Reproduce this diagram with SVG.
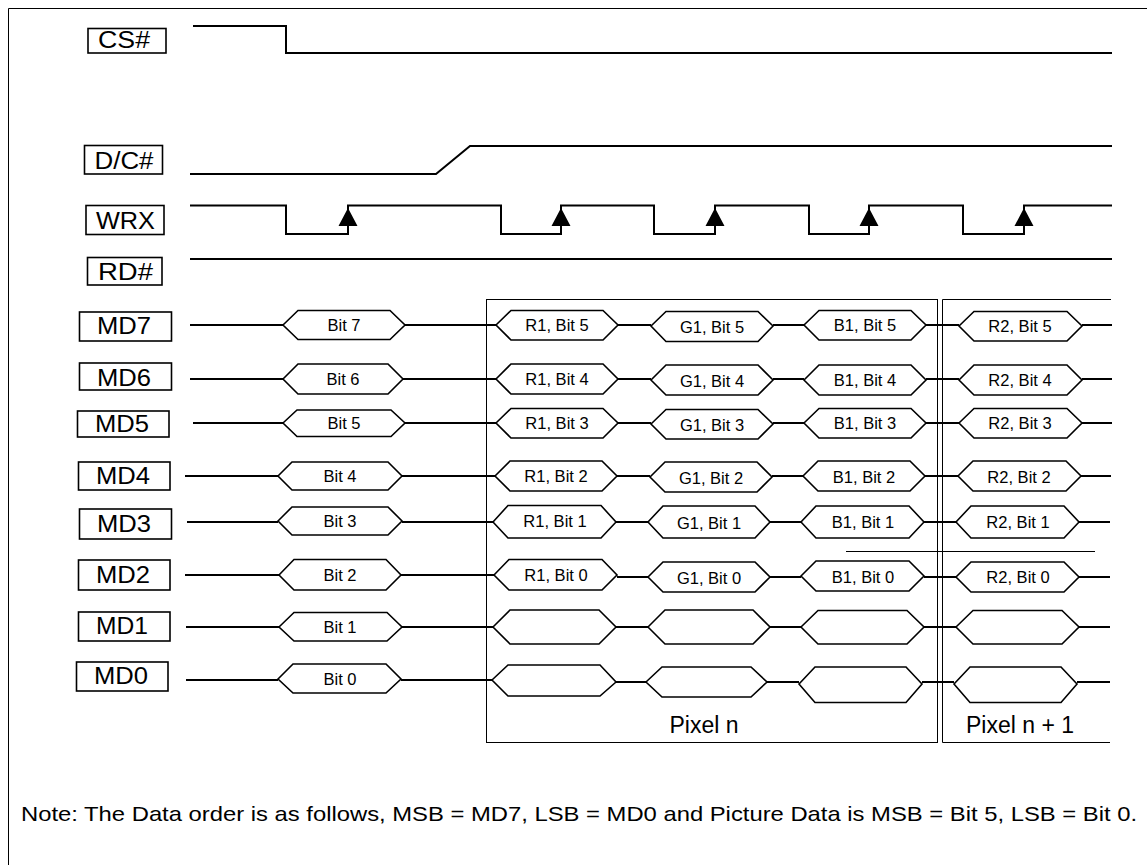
<svg xmlns="http://www.w3.org/2000/svg" width="1147" height="865" viewBox="0 0 1147 865">
<style>
.bg{fill:#fff}
.frame{fill:none;stroke:#000;stroke-width:1}
.lbl{fill:#fff;stroke:#000;stroke-width:1.6}
.lt{font-family:"Liberation Sans",Arial,sans-serif;font-size:23px;fill:#000;text-anchor:middle}
.sig{fill:none;stroke:#000;stroke-width:2}
.hex{fill:#fff;stroke:#000;stroke-width:1.6;stroke-linejoin:miter}
.ht{font-family:"Liberation Sans",Arial,sans-serif;font-size:16.5px;fill:#000;text-anchor:middle}
.box{fill:none;stroke:#000;stroke-width:1}
.pt{font-family:"Liberation Sans",Arial,sans-serif;font-size:23px;fill:#000;text-anchor:middle}
.note{font-family:"Liberation Sans",Arial,sans-serif;font-size:21px;fill:#000}
.arr{fill:#000}
</style>
<rect class="bg" x="0" y="0" width="1147" height="865"/>
<path class="frame" d="M8.5,865 V8.5 H1147"/>

<g id="pixel-boxes">
<rect class="box" x="486.5" y="299.5" width="451" height="443"/>
<path class="box" d="M1111,299.5 H942.5 V742.5 H1110"/>
<line class="box" x1="846" y1="551.5" x2="1095" y2="551.5"/>
<text class="pt" x="704" y="733">Pixel n</text>
<text class="pt" x="1020" y="733">Pixel n + 1</text>
</g>

<g id="connectors">
<path class="sig" d="M193,26 H286 V53 H1112"/>
<path class="sig" d="M190,174 H436 L470,146 H1112"/>
<path class="sig" d="M190,205.5 H286 V234 H348 V205.5 H501 V234 H561 V205.5 H654 V234 H715 V205.5 H809 V234 H869 V205.5 H963 V234 H1024 V205.5 H1112"/>
<path class="arr" d="M348,208 L338.5,226 H357.5 Z M561,208 L551.5,226 H570.5 Z M715,208 L705.5,226 H724.5 Z M869,208 L859.5,226 H878.5 Z M1024,208 L1014.5,226 H1033.5 Z"/>
<path class="sig" d="M190,259 H1112"/>
<path class="sig" d="M190,325 H283 M405,325 H496 M618,325 H651 M773,325 H804 M926,325 H959 M1082,325 H1112"/>
<path class="sig" d="M190,379 H283 M403,379 H496 M618,379 H651 M773,379 H804 M926,379 H959 M1082,379 H1112"/>
<path class="sig" d="M193,423 H283 M405,423 H496 M618,423 H651 M773,423 H804 M926,423 H959 M1082,423 H1112"/>
<path class="sig" d="M185,476 H278 M402,476 H495 M617,476 H650 M772,476 H803 M925,476 H958 M1081,476 H1111"/>
<path class="sig" d="M187,522 H278 M402,522 H493 M616,522 H648 M770,522 H801 M924,522 H956 M1079,522 H1110"/>
<path class="sig" d="M185,575 H279 M401,575 H494 M617,577 H649 M770,577 H801 M924,577 H956 M1079,577 H1110"/>
<path class="sig" d="M186,627 H279 M402,627 H493 M616,627 H648 M770,627 H801 M924,627 H956 M1079,627 H1110"/>
<path class="sig" d="M186,680 H278 M401,680 H492 M616,682 H646 M767,682 H799 M922,682 H954 M1077,682 H1110"/>
</g>

<g id="CS"><rect class="lbl" x="88" y="28.5" width="78" height="24.5"/><text class="lt" x="124" y="47.5" textLength="52" lengthAdjust="spacingAndGlyphs">CS#</text></g>
<g id="DC"><rect class="lbl" x="84.5" y="145.5" width="78" height="28.5"/><text class="lt" x="124" y="169" textLength="59" lengthAdjust="spacingAndGlyphs">D/C#</text></g>
<g id="WRX"><rect class="lbl" x="86" y="205.5" width="78" height="29"/><text class="lt" x="125.5" y="228.5" textLength="59" lengthAdjust="spacingAndGlyphs">WRX</text></g>
<g id="RD"><rect class="lbl" x="87.5" y="257.5" width="74.5" height="27.5"/><text class="lt" x="125.5" y="280" textLength="55" lengthAdjust="spacingAndGlyphs">RD#</text></g>

<g id="MD7"><rect class="lbl" x="79.5" y="312" width="92" height="29"/><text class="lt" x="124" y="334" textLength="54" lengthAdjust="spacingAndGlyphs">MD7</text></g>
<g id="MD6"><rect class="lbl" x="79.5" y="363" width="92" height="27"/><text class="lt" x="124" y="386" textLength="54" lengthAdjust="spacingAndGlyphs">MD6</text></g>
<g id="MD5"><rect class="lbl" x="77.5" y="411" width="91.5" height="26"/><text class="lt" x="122" y="432" textLength="54" lengthAdjust="spacingAndGlyphs">MD5</text></g>
<g id="MD4"><rect class="lbl" x="78.5" y="462" width="91.5" height="28"/><text class="lt" x="123" y="484" textLength="54" lengthAdjust="spacingAndGlyphs">MD4</text></g>
<g id="MD3"><rect class="lbl" x="79.5" y="509" width="92" height="30"/><text class="lt" x="124" y="532" textLength="54" lengthAdjust="spacingAndGlyphs">MD3</text></g>
<g id="MD2"><rect class="lbl" x="78.5" y="560" width="91.5" height="30"/><text class="lt" x="123" y="583" textLength="54" lengthAdjust="spacingAndGlyphs">MD2</text></g>
<g id="MD1"><rect class="lbl" x="78.5" y="612" width="91.5" height="29"/><text class="lt" x="122" y="634" textLength="52" lengthAdjust="spacingAndGlyphs">MD1</text></g>
<g id="MD0"><rect class="lbl" x="76.5" y="662" width="91.5" height="29"/><text class="lt" x="121" y="684" textLength="54" lengthAdjust="spacingAndGlyphs">MD0</text></g>

<g id="bits">
<g id="bit7"><path class="hex" d="M283,325 L298,310.5 H390 L405,325 L390,339.5 H298 Z"/><text class="ht" x="344" y="331">Bit 7</text></g>
<g id="bit6"><path class="hex" d="M283,379 L298,364 H388 L403,379 L388,394 H298 Z"/><text class="ht" x="343" y="385">Bit 6</text></g>
<g id="bit5"><path class="hex" d="M283,423 L297,410 H391 L405,423 L391,436.5 H297 Z"/><text class="ht" x="344" y="429">Bit 5</text></g>
<g id="bit4"><path class="hex" d="M278,476 L292,462 H388 L402,476 L388,490 H292 Z"/><text class="ht" x="340" y="482">Bit 4</text></g>
<g id="bit3"><path class="hex" d="M278,521 L292,507 H388 L402,521 L388,535 H292 Z"/><text class="ht" x="340" y="527">Bit 3</text></g>
<g id="bit2"><path class="hex" d="M279,575 L294,559.5 H386 L401,575 L386,590 H294 Z"/><text class="ht" x="340" y="581">Bit 2</text></g>
<g id="bit1"><path class="hex" d="M279,627 L294,612.5 H387 L402,627 L387,641 H294 Z"/><text class="ht" x="340" y="633">Bit 1</text></g>
<g id="bit0"><path class="hex" d="M278,679 L293,664 H386 L401,679 L386,693 H293 Z"/><text class="ht" x="340" y="685">Bit 0</text></g>
</g>

<g id="pixel-row-MD7">
<g id="r1b5"><path class="hex" d="M496,325 L511,310.5 H603 L618,325 L603,340 H511 Z"/><text class="ht" x="557" y="331">R1, Bit 5</text></g>
<g id="g1b5"><path class="hex" d="M651,326 L666,311.5 H758 L773,326 L758,341.5 H666 Z"/><text class="ht" x="712" y="333">G1, Bit 5</text></g>
<g id="b1b5"><path class="hex" d="M804,325 L819,310.5 H911 L926,325 L911,340 H819 Z"/><text class="ht" x="865" y="331">B1, Bit 5</text></g>
<g id="r2b5"><path class="hex" d="M959,326 L974,311.5 H1067 L1082,326 L1067,341 H974 Z"/><text class="ht" x="1020" y="332">R2, Bit 5</text></g>
</g>
<g id="pixel-row-MD6">
<g id="r1b4"><path class="hex" d="M496,379 L511,364 H603 L618,379 L603,394 H511 Z"/><text class="ht" x="557" y="385">R1, Bit 4</text></g>
<g id="g1b4"><path class="hex" d="M651,380 L666,365 H758 L773,380 L758,395 H666 Z"/><text class="ht" x="712" y="387">G1, Bit 4</text></g>
<g id="b1b4"><path class="hex" d="M804,380 L819,365 H911 L926,380 L911,395 H819 Z"/><text class="ht" x="865" y="386">B1, Bit 4</text></g>
<g id="r2b4"><path class="hex" d="M959,380 L974,365 H1067 L1082,380 L1067,395 H974 Z"/><text class="ht" x="1020" y="386">R2, Bit 4</text></g>
</g>
<g id="pixel-row-MD5">
<g id="r1b3"><path class="hex" d="M496,423 L511,408.5 H603 L618,423 L603,438 H511 Z"/><text class="ht" x="557" y="429">R1, Bit 3</text></g>
<g id="g1b3"><path class="hex" d="M651,424 L666,409.5 H758 L773,424 L758,439 H666 Z"/><text class="ht" x="712" y="431">G1, Bit 3</text></g>
<g id="b1b3"><path class="hex" d="M804,423 L819,408.5 H911 L926,423 L911,438 H819 Z"/><text class="ht" x="865" y="429">B1, Bit 3</text></g>
<g id="r2b3"><path class="hex" d="M959,423 L974,408.5 H1067 L1082,423 L1067,438 H974 Z"/><text class="ht" x="1020" y="429">R2, Bit 3</text></g>
</g>
<g id="pixel-row-MD4">
<g id="r1b2"><path class="hex" d="M495,476 L510,461 H602 L617,476 L602,491 H510 Z"/><text class="ht" x="556" y="482">R1, Bit 2</text></g>
<g id="g1b2"><path class="hex" d="M650,477 L665,462 H757 L772,477 L757,492 H665 Z"/><text class="ht" x="711" y="484">G1, Bit 2</text></g>
<g id="b1b2"><path class="hex" d="M803,476 L818,461 H910 L925,476 L910,491 H818 Z"/><text class="ht" x="864" y="483">B1, Bit 2</text></g>
<g id="r2b2"><path class="hex" d="M958,476 L973,461 H1066 L1081,476 L1066,491 H973 Z"/><text class="ht" x="1019" y="483">R2, Bit 2</text></g>
</g>
<g id="pixel-row-MD3">
<g id="r1b1"><path class="hex" d="M493,522 L508,505.5 H601 L616,522 L601,538 H508 Z"/><text class="ht" x="555" y="527">R1, Bit 1</text></g>
<g id="g1b1"><path class="hex" d="M648,522 L663,506 H755 L770,522 L755,538 H663 Z"/><text class="ht" x="709" y="529">G1, Bit 1</text></g>
<g id="b1b1"><path class="hex" d="M801,522 L816,506 H909 L924,522 L909,538 H816 Z"/><text class="ht" x="863" y="528">B1, Bit 1</text></g>
<g id="r2b1"><path class="hex" d="M956,522 L971,506 H1064 L1079,522 L1064,538 H971 Z"/><text class="ht" x="1018" y="528">R2, Bit 1</text></g>
</g>
<g id="pixel-row-MD2">
<g id="r1b0"><path class="hex" d="M494,575 L509,559.5 H602 L617,575 L602,590 H509 Z"/><text class="ht" x="556" y="581">R1, Bit 0</text></g>
<g id="g1b0"><path class="hex" d="M648,577 L663,562 H755 L770,577 L755,592 H663 Z"/><text class="ht" x="709" y="584">G1, Bit 0</text></g>
<g id="b1b0"><path class="hex" d="M801,576 L816,561 H909 L924,576 L909,591 H816 Z"/><text class="ht" x="863" y="583">B1, Bit 0</text></g>
<g id="r2b0"><path class="hex" d="M956,577 L971,562 H1064 L1079,577 L1064,592 H971 Z"/><text class="ht" x="1018" y="583">R2, Bit 0</text></g>
</g>
<g id="pixel-row-MD1">
<path class="hex" d="M493,627 L510,610 H599 L616,627 L599,644 H510 Z"/>
<path class="hex" d="M648,627 L665,610 H753 L770,627 L753,644 H665 Z"/>
<path class="hex" d="M801,627 L818,610.5 H907 L924,627 L907,644 H818 Z"/>
<path class="hex" d="M956,627 L973,610.5 H1062 L1079,627 L1062,644 H973 Z"/>
</g>
<g id="pixel-row-MD0">
<path class="hex" d="M492,680 L508,665 H600 L616,682 L600,696 H508 Z"/>
<path class="hex" d="M646,682 L662,667 H751 L767,682 L751,697 H662 Z"/>
<path class="hex" d="M799,684 L815,667 H906 L922,684 L906,702.5 H815 Z"/>
<path class="hex" d="M954,684 L970,667 H1061 L1077,684 L1061,702.5 H970 Z"/>
</g>

<text class="note" x="21" y="821" textLength="1116" lengthAdjust="spacingAndGlyphs">Note: The Data order is as follows, MSB = MD7, LSB = MD0 and Picture Data is MSB = Bit 5, LSB = Bit 0.</text>
</svg>
